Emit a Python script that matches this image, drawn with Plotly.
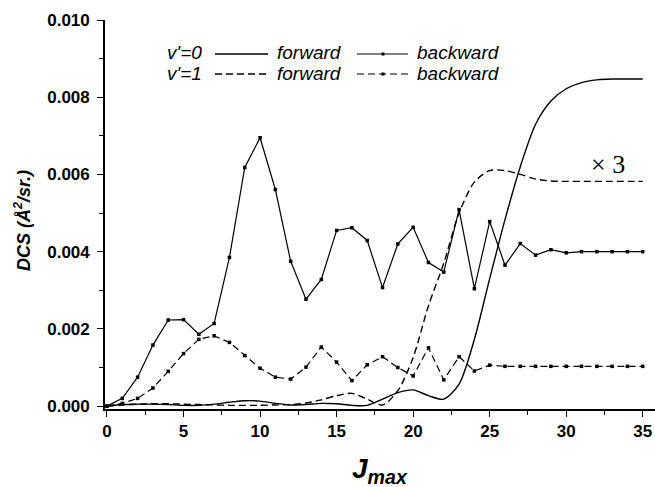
import plotly.graph_objects as go

J = list(range(0, 36))

fwd_v0 = [0, 0.00004, 0.00005, 0.00005, 0.00004, 0.00002, 0.00002, 0.00005, 0.0001, 0.00014,
          0.00013, 0.00007, 0.00003, 0.00004, 0.00007, 0.00006, 0.00002, 0.00002, 0.00018, 0.00035,
          0.00042, 0.00027, 0.00018, 0.00057, 0.00173, 0.0033, 0.00483, 0.0062, 0.0073, 0.0079,
          0.00822, 0.00838, 0.00845, 0.00847, 0.00847, 0.00847]

bwd_v0 = [0, 0.0002, 0.00075, 0.00158, 0.00223, 0.00224, 0.00186, 0.00214, 0.00385, 0.00618,
          0.00695, 0.00561, 0.00375, 0.00277, 0.00328, 0.00455, 0.00462, 0.00429, 0.00307, 0.0042,
          0.00463, 0.00372, 0.00347, 0.00509, 0.00304, 0.00478, 0.00365, 0.00421, 0.00391, 0.00405,
          0.00397, 0.004, 0.004, 0.004, 0.004, 0.004]

fwd_v1 = [0, 0.00003, 0.00005, 0.00006, 0.00006, 0.00005, 0.00004, 0.00003, 0.00002, 0.00002,
          0.00002, 0.00003, 0.00004, 0.00008, 0.00016, 0.00027, 0.00033, 0.00018, 0.00003, 0.0004,
          0.00126, 0.0026, 0.0037, 0.005, 0.0058, 0.0061, 0.0061, 0.006, 0.00588, 0.00583,
          0.00582, 0.00582, 0.00582, 0.00582, 0.00582, 0.00582]

bwd_v1 = [0, 0.00007, 0.0002, 0.00047, 0.0009, 0.00136, 0.00173, 0.00182, 0.00165, 0.00131,
          0.00098, 0.00075, 0.0007, 0.00101, 0.00153, 0.00114, 0.00066, 0.00107, 0.00128, 0.001,
          0.00078, 0.00151, 0.00068, 0.00128, 0.00091, 0.00106, 0.00103, 0.00103, 0.00103, 0.00103,
          0.00103, 0.00103, 0.00103, 0.00103, 0.00103, 0.00103]

x_ticks = [0, 5, 10, 15, 20, 25, 30, 35]
y_ticks = [0.000, 0.002, 0.004, 0.006, 0.008, 0.010]

W, H = 655, 487
L, R, T, B = 105, 0, 20, 78
PW, PH = W - L - R, H - T - B

def px(x):
    return (x - L) / PW

def py(y):
    return (H - B - y) / PH

DASH = "7px,4px"
fig = go.Figure()
fig.add_trace(go.Scatter(x=J, y=fwd_v0, mode="lines", line=dict(color="black", width=1.4, shape="spline", smoothing=0.8)))
fig.add_trace(go.Scatter(x=J, y=fwd_v1, mode="lines", line=dict(color="black", width=1.4, dash=DASH, shape="spline", smoothing=0.8)))
fig.add_trace(go.Scatter(x=J, y=bwd_v0, mode="lines+markers", line=dict(color="black", width=1.2),
                         marker=dict(symbol="square", size=3.5, color="black")))
fig.add_trace(go.Scatter(x=J, y=bwd_v1, mode="lines+markers", line=dict(color="black", width=1.2, dash=DASH),
                         marker=dict(symbol="square", size=3.5, color="black")))

font_leg = dict(family="Liberation Sans, Arial", size=19, color="black")
ann = []
shapes = []
rows = [(53, "v'=0", "solid"), (73, "v'=1", DASH)]
for yy, lab, dash in rows:
    ann.append(dict(x=px(165), y=py(yy), xref="paper", yref="paper", text="<i>%s</i>" % lab,
                    showarrow=False, xanchor="left", yanchor="middle", font=font_leg))
    ann.append(dict(x=px(275), y=py(yy), xref="paper", yref="paper", text="<i>forward</i>",
                    showarrow=False, xanchor="left", yanchor="middle", font=font_leg))
    ann.append(dict(x=px(415), y=py(yy), xref="paper", yref="paper", text="<i>backward</i>",
                    showarrow=False, xanchor="left", yanchor="middle", font=font_leg))
    shapes.append(dict(type="line", xref="paper", yref="paper", x0=px(215), x1=px(268), y0=py(yy + 1), y1=py(yy + 1),
                       line=dict(color="black", width=1.3, dash=dash)))
    shapes.append(dict(type="line", xref="paper", yref="paper", x0=px(357), x1=px(408), y0=py(yy + 1), y1=py(yy + 1),
                       line=dict(color="black", width=1.1, dash=dash)))
    shapes.append(dict(type="rect", xref="paper", yref="paper", x0=px(381.5), x1=px(384.5), y0=py(yy + 2.5), y1=py(yy - 0.5),
                       line=dict(width=0), fillcolor="black"))

ann.append(dict(x=px(608), y=py(164), xref="paper", yref="paper", text="\u00d7 3", showarrow=False,
                xanchor="center", yanchor="middle", font=dict(family="Liberation Serif, Times New Roman", size=26, color="black")))
ann.append(dict(x=px(380), y=py(470), xref="paper", yref="paper", text="<b><i>J<sub>max</sub></i></b>", showarrow=False,
                xanchor="center", yanchor="middle", font=dict(family="Liberation Sans, Arial", size=28, color="black")))
ann.append(dict(x=px(22), y=py(221), xref="paper", yref="paper", text="<b><i>DCS (\u00c5<sup>2</sup>/sr.)</i></b>",
                showarrow=False, textangle=-90, xanchor="center", yanchor="middle",
                font=dict(family="Liberation Sans, Arial", size=18, color="black")))

tickfont = dict(family="Liberation Sans, Arial", size=17, color="black")
fig.update_layout(
    width=W, height=H, margin=dict(l=L, r=R, t=T, b=B),
    paper_bgcolor="white", plot_bgcolor="white", showlegend=False,
    annotations=ann, shapes=shapes,
    xaxis=dict(range=[-0.13, 35.8], tickvals=x_ticks, ticktext=["<b>%d</b>" % v for v in x_ticks],
               ticks="outside", ticklen=6, tickwidth=1.4, tickcolor="black",
               minor=dict(dtick=2.5, tick0=0, ticks="outside", ticklen=4, tickwidth=1.2, tickcolor="black"),
               showline=True, linecolor="black", linewidth=1.7, showgrid=False, zeroline=False,
               tickfont=tickfont),
    yaxis=dict(range=[-0.000075, 0.010], tickvals=y_ticks, ticktext=["<b>%.3f</b>" % v for v in y_ticks],
               ticks="outside", ticklen=6, tickwidth=1.4, tickcolor="black",
               minor=dict(dtick=0.001, tick0=0, ticks="outside", ticklen=4, tickwidth=1.2, tickcolor="black"),
               showline=True, linecolor="black", linewidth=1.7, showgrid=False, zeroline=False,
               tickfont=tickfont, ticklabelstandoff=4),
)
fig.write_html("out.html")
